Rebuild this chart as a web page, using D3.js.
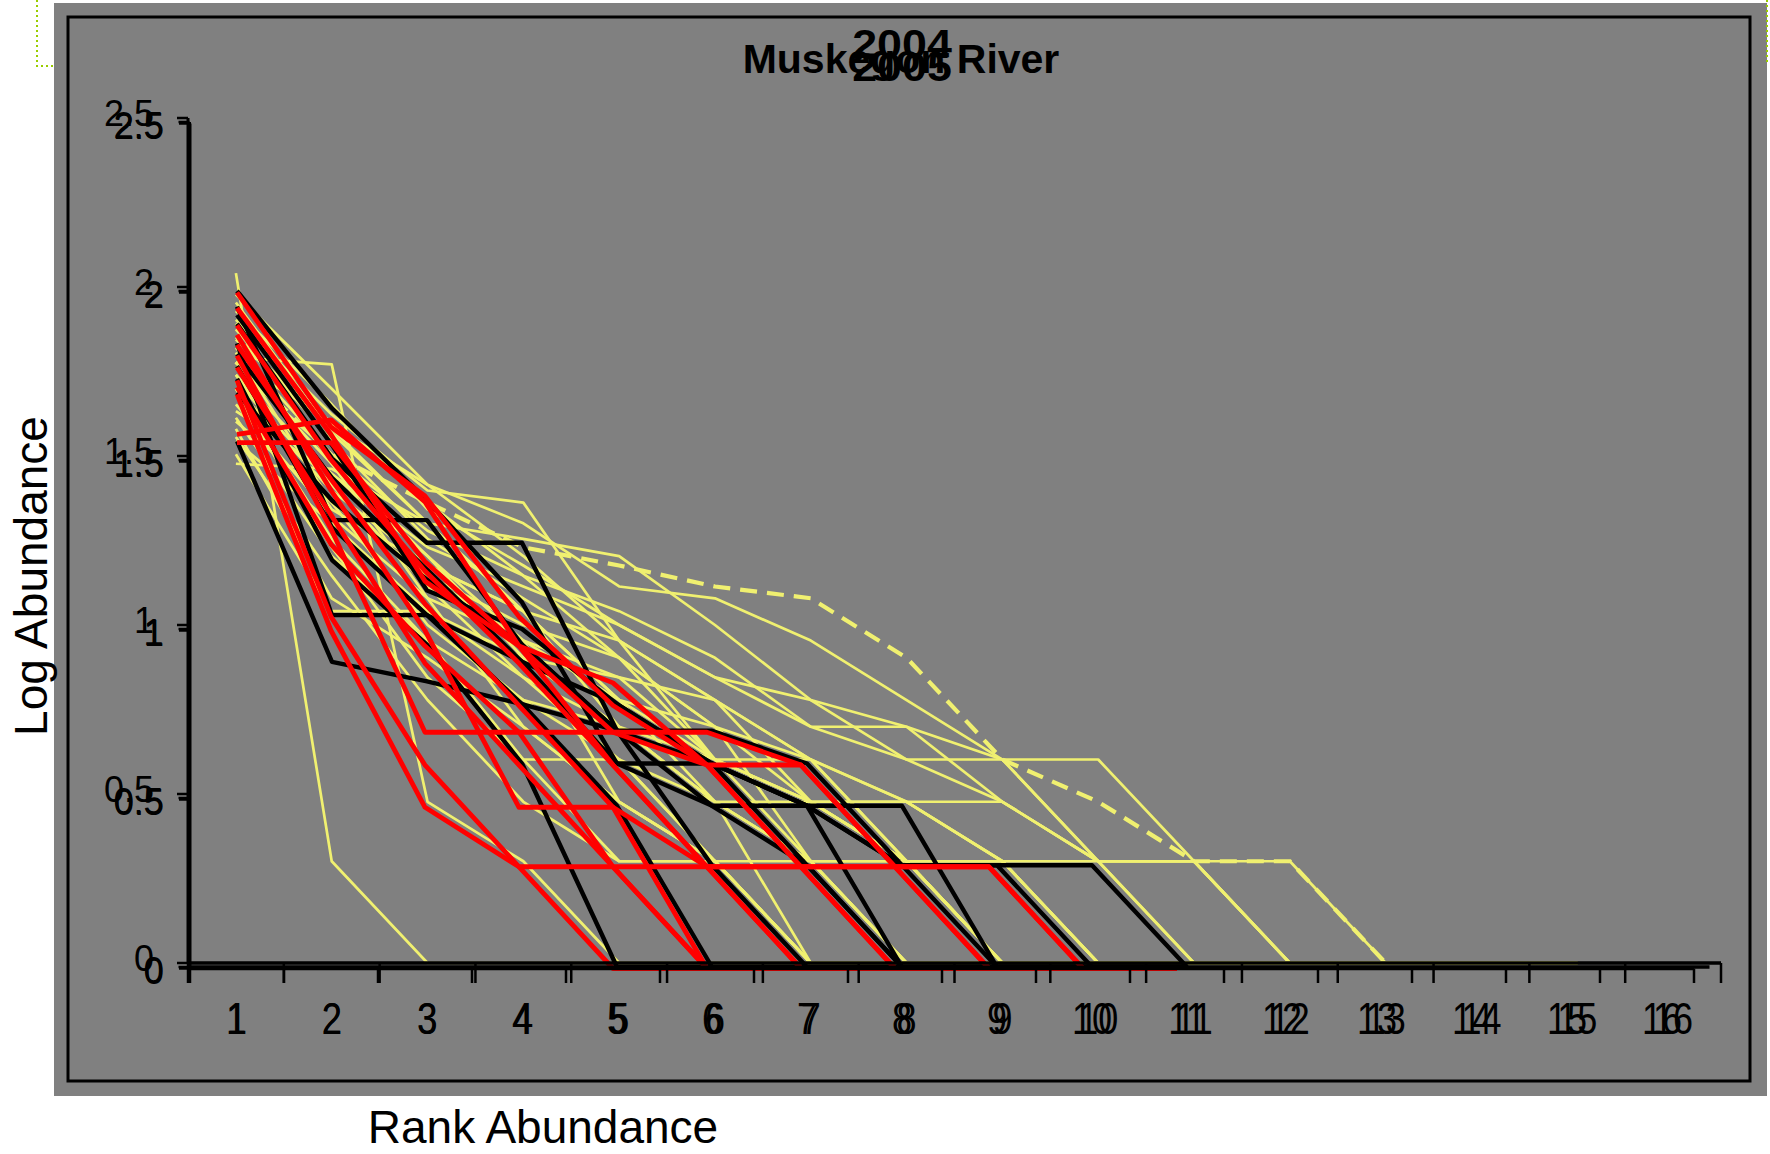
<!DOCTYPE html>
<html><head><meta charset="utf-8">
<script src="https://cdn.jsdelivr.net/npm/d3@7"></script>
<style>
body{margin:0;background:#fff}
svg{display:block}
text{font-family:"Liberation Sans",Arial,sans-serif;fill:#000}
</style>
</head><body>
<svg id="chart" width="1770" height="1154"></svg>
<script>
// ---------------- data ----------------
const ranks = [1,2,3,4,5,6,7,8,9,10,11,12,13,14,15,16];
const rankLabels = ["1","2","3","4","5","6","7","8","9","10","11","12","13","14","15","16"];
const yTickValues = [0, 0.5, 1, 1.5, 2, 2.5];
const yTickLabels = ["0","0.5","1","1.5","2","2.5"];
const titleAll = "Muskegon River";
const title2004 = "2004";
const title2005 = "2005";
const xAxisTitle = "Rank Abundance";
const yAxisTitle = "Log Abundance";

// All Muskegon River sites (yellow), log10 abundance by rank
const sitesAll = [
  [2.041,0.301,0,0,0,0,0,0,0,0,0,0,0,0,0],
  [1.792,1.771,0.477,0.301,0,0,0,0,0,0,0,0,0,0,0],
  [1.477,1.462,1.301,1.041,0.778,0.477,0.301,0,0,0,0,0,0,0,0],
  [1.851,1.591,1.415,1.301,1.114,1.079,0.954,0.778,0.602,0.602,0.301,0,0,0,0],
  [1.903,1.623,1.398,1.362,0.954,0.778,0.602,0.477,0.301,0,0,0,0,0,0],
  [1.954,1.568,1.301,1.255,1.204,1.000,0.778,0.699,0.602,0.301,0,0,0,0,0],
  [1.820,1.505,1.279,1.146,1.041,0.903,0.699,0.699,0.477,0.301,0,0,0,0,0],
  [1.740,1.447,1.230,1.114,1.000,0.845,0.778,0.602,0.602,0.301,0.301,0,0,0,0],
  [1.699,1.398,1.176,1.041,0.954,0.778,0.602,0.477,0.477,0.301,0.301,0,0,0,0],
  [1.602,1.362,1.146,1.000,0.903,0.699,0.477,0.477,0.301,0,0,0,0,0,0],
  [1.653,1.322,1.079,0.954,0.845,0.602,0.477,0.301,0.301,0.301,0.301,0.301,0,0,0],
  [1.544,1.301,1.041,0.903,0.699,0.477,0.301,0.301,0,0,0,0,0,0,0],
  [1.778,1.477,1.204,0.954,0.778,0.699,0.602,0.301,0,0,0,0,0,0,0],
  [1.875,1.544,1.255,1.079,0.903,0.699,0.301,0,0,0,0,0,0,0,0],
  [1.929,1.653,1.342,1.176,1.000,0.845,0.699,0.602,0.477,0.301,0.301,0,0,0,0],
  [1.613,1.204,0.954,0.778,0.602,0.477,0.301,0,0,0,0,0,0,0,0],
  [1.720,1.415,1.114,0.845,0.602,0.301,0,0,0,0,0,0,0,0,0],
  [1.845,1.580,1.301,1.041,0.778,0.602,0.301,0.301,0,0,0,0,0,0,0],
  [1.580,1.079,0.903,0.699,0.477,0.301,0,0,0,0,0,0,0,0,0],
  [1.505,1.041,1.041,0.845,0.699,0.477,0,0,0,0,0,0,0,0,0],
  [1.763,1.505,1.146,0.954,0.477,0.301,0,0,0,0,0,0,0,0,0],
  [1.978,1.699,1.415,1.204,0.954,0.602,0.477,0.301,0,0,0,0,0,0,0],
  [1.681,1.230,0.845,0.602,0.301,0.301,0,0,0,0,0,0,0,0,0],
  [1.806,1.362,1.000,0.778,0.699,0.477,0.477,0.301,0,0,0,0,0,0,0],
  [1.556,1.146,0.778,0.477,0.301,0.301,0,0,0,0,0,0,0,0,0],
  [1.633,1.447,1.204,0.903,0.845,0.778,0.477,0.301,0.301,0,0,0,0,0,0],
  [1.892,1.477,1.079,0.699,0.477,0.301,0.301,0,0,0,0,0,0,0,0],
  [1.740,1.342,1.176,1.041,0.699,0.602,0.602,0.301,0,0,0,0,0,0,0],
  [1.699,1.255,0.954,0.602,0.602,0.301,0,0,0,0,0,0,0,0,0],
  [1.778,1.602,1.362,1.146,0.903,0.602,0.477,0.477,0.301,0,0,0,0,0,0]
];
// the dashed yellow site
const siteAllDashed = [1.778,1.505,1.362,1.230,1.176,1.114,1.079,0.903,0.602,0.477,0.301,0.301,0,0,0];

// 2004 sites (black)
const sites2004 = [
  [2.000,1.653,1.380,1.079,0.602,0.602,0.301,0,0,0,0],
  [1.954,1.322,1.322,0.954,0.699,0.477,0.477,0.301,0.301,0.301,0],
  [1.903,1.505,1.255,1.255,0.699,0.699,0.602,0.301,0,0,0],
  [1.845,1.041,1.041,0.903,0.778,0.602,0.477,0,0,0,0],
  [1.556,0.903,0.845,0.778,0.699,0.602,0.477,0.301,0.301,0,0],
  [1.778,1.301,1.041,0.778,0.477,0,0,0,0,0,0],
  [1.699,1.380,1.146,0.954,0.699,0.301,0,0,0,0,0],
  [1.813,1.447,1.176,0.903,0.602,0.477,0.301,0,0,0,0],
  [1.740,1.204,0.954,0.602,0,0,0,0,0,0,0],
  [1.929,1.544,1.114,1.000,0.778,0.602,0.477,0.477,0,0,0]
];

// 2005 sites (red)
const sites2005 = [
  [2.000,1.602,1.398,1.041,0.778,0.602,0.602,0.301,0.301,0,0],
  [1.954,1.580,1.146,0.954,0.699,0.699,0.602,0.301,0.301,0,0],
  [1.903,1.505,1.176,0.903,0.602,0.301,0,0,0,0,0],
  [1.875,1.415,1.000,0.477,0.477,0,0,0,0,0,0],
  [1.813,1.301,0.699,0.699,0.699,0.602,0.301,0,0,0,0],
  [1.580,1.623,1.380,0.954,0.845,0.602,0.301,0.301,0,0,0],
  [1.556,1.556,1.204,0.954,0.602,0.301,0.301,0,0,0,0],
  [1.740,1.041,0.602,0.301,0.301,0,0,0,0,0,0],
  [1.699,1.000,0.477,0.301,0,0,0,0,0,0,0],
  [1.778,1.342,0.903,0.602,0.301,0.301,0,0,0,0,0],
  [1.845,1.447,1.079,0.778,0.477,0.301,0.301,0.301,0,0,0],
  [1.720,1.255,0.954,0.699,0.301,0,0,0,0,0,0]
];

// ---------------- drawing ----------------
const svg = d3.select("#chart");

svg.append("rect").attr("x",54).attr("y",3).attr("width",1713).attr("height",1093).attr("fill","#808080");
svg.append("path").attr("d","M37,0 V66 H54").attr("fill","none").attr("stroke","#99cc00").attr("stroke-width",2).attr("stroke-dasharray","2,3");
svg.append("path").attr("d","M1767,0 V64").attr("fill","none").attr("stroke","#99cc00").attr("stroke-width",2).attr("stroke-dasharray","2,3");
svg.append("rect").attr("x",68).attr("y",17).attr("width",1682).attr("height",1064)
  .attr("fill","none").attr("stroke","#000").attr("stroke-width",3);

const panels = [
  {key:"all", x0:188, x1:1721, y0:963, y1:118, ticksX:true, labelsX:true, labDx:-8, labDy:-5},
  {key:"2004", x0:189.5, x1:1709.5, y0:967, y1:122, ticksX:false, labelsX:true, labDx:0, labDy:3},
  {key:"2005", x0:190, x1:1694, y0:968.5, y1:123.5, ticksX:true, labelsX:false, labDx:0, labDy:3}
];
panels.forEach(p=>{
  p.x = d3.scaleLinear().domain([0.5,16.5]).range([p.x0,p.x1]);
  p.y = d3.scaleLinear().domain([0,2.5]).range([p.y0,p.y1]);
});
const P = {}; panels.forEach(p=>P[p.key]=p);

function lineFor(p){
  return d3.line().x((d,i)=>p.x(ranks[i])).y(d=>p.y(d));
}

const gAll = svg.append("g");
sitesAll.forEach(s=>{
  gAll.append("path").attr("d",lineFor(P.all)(s)).attr("fill","none")
    .attr("stroke","#F0F070").attr("stroke-width",2.7).attr("stroke-linejoin","round");
});
gAll.append("path").attr("d",lineFor(P.all)(siteAllDashed)).attr("fill","none")
  .attr("stroke","#F0F070").attr("stroke-width",4.2).attr("stroke-dasharray","17,10");

const g04 = svg.append("g");
sites2004.forEach(s=>{
  g04.append("path").attr("d",lineFor(P["2004"])(s)).attr("fill","none")
    .attr("stroke","#000").attr("stroke-width",4.4).attr("stroke-linejoin","round");
});
const g05 = svg.append("g");
sites2005.forEach(s=>{
  g05.append("path").attr("d",lineFor(P["2005"])(s)).attr("fill","none")
    .attr("stroke","#ff0000").attr("stroke-width",4.8).attr("stroke-linejoin","round");
});

panels.forEach(p=>{
  const g = svg.append("g");
  g.append("line").attr("x1",p.x0).attr("x2",p.x0).attr("y1",p.y0).attr("y2",p.y1)
    .attr("stroke","#000").attr("stroke-width",3);
  yTickValues.forEach((v,i)=>{
    g.append("line").attr("x1",p.x0-11).attr("x2",p.x0).attr("y1",p.y(v)).attr("y2",p.y(v))
      .attr("stroke","#000").attr("stroke-width",2.5);
    g.append("text").attr("x",p.x0-26+p.labDx).attr("y",p.y(v)+p.labDy)
      .attr("text-anchor","end").attr("dy","0.36em").attr("font-size",36).text(yTickLabels[i]);
  });
  g.append("line").attr("x1",p.x0).attr("x2",p.x1).attr("y1",p.y0).attr("y2",p.y0)
    .attr("stroke","#000").attr("stroke-width",3.5);
  if(p.ticksX){
    d3.range(0,17).forEach(i=>{
      const xv = p.x(ranks[0]-0.5+i);
      g.append("line").attr("x1",xv).attr("x2",xv).attr("y1",p.y0).attr("y2",983)
        .attr("stroke","#000").attr("stroke-width",2.5);
    });
  }
  if(p.labelsX){
    ranks.forEach((r,i)=>{
      g.append("text").attr("transform",`translate(${p.x(r)},1034) scale(1,1.25)`)
        .attr("text-anchor","middle").attr("font-size",36).text(rankLabels[i]);
    });
  }
});

svg.append("text").attr("x",901).attr("y",73).attr("text-anchor","middle")
  .attr("font-size",41).attr("font-weight","bold").text(titleAll);
svg.append("text").attr("transform","translate(902,58) scale(1.12,1)").attr("text-anchor","middle")
  .attr("font-size",40).attr("font-weight","bold").text(title2004);
svg.append("text").attr("transform","translate(902,81) scale(1.12,1)").attr("text-anchor","middle")
  .attr("font-size",40).attr("font-weight","bold").text(title2005);

svg.append("text").attr("x",543).attr("y",1143).attr("text-anchor","middle")
  .attr("font-size",46).text(xAxisTitle);
svg.append("text").attr("transform","translate(47,576) rotate(-90)").attr("text-anchor","middle")
  .attr("font-size",46).text(yAxisTitle);
</script>
</body></html>
